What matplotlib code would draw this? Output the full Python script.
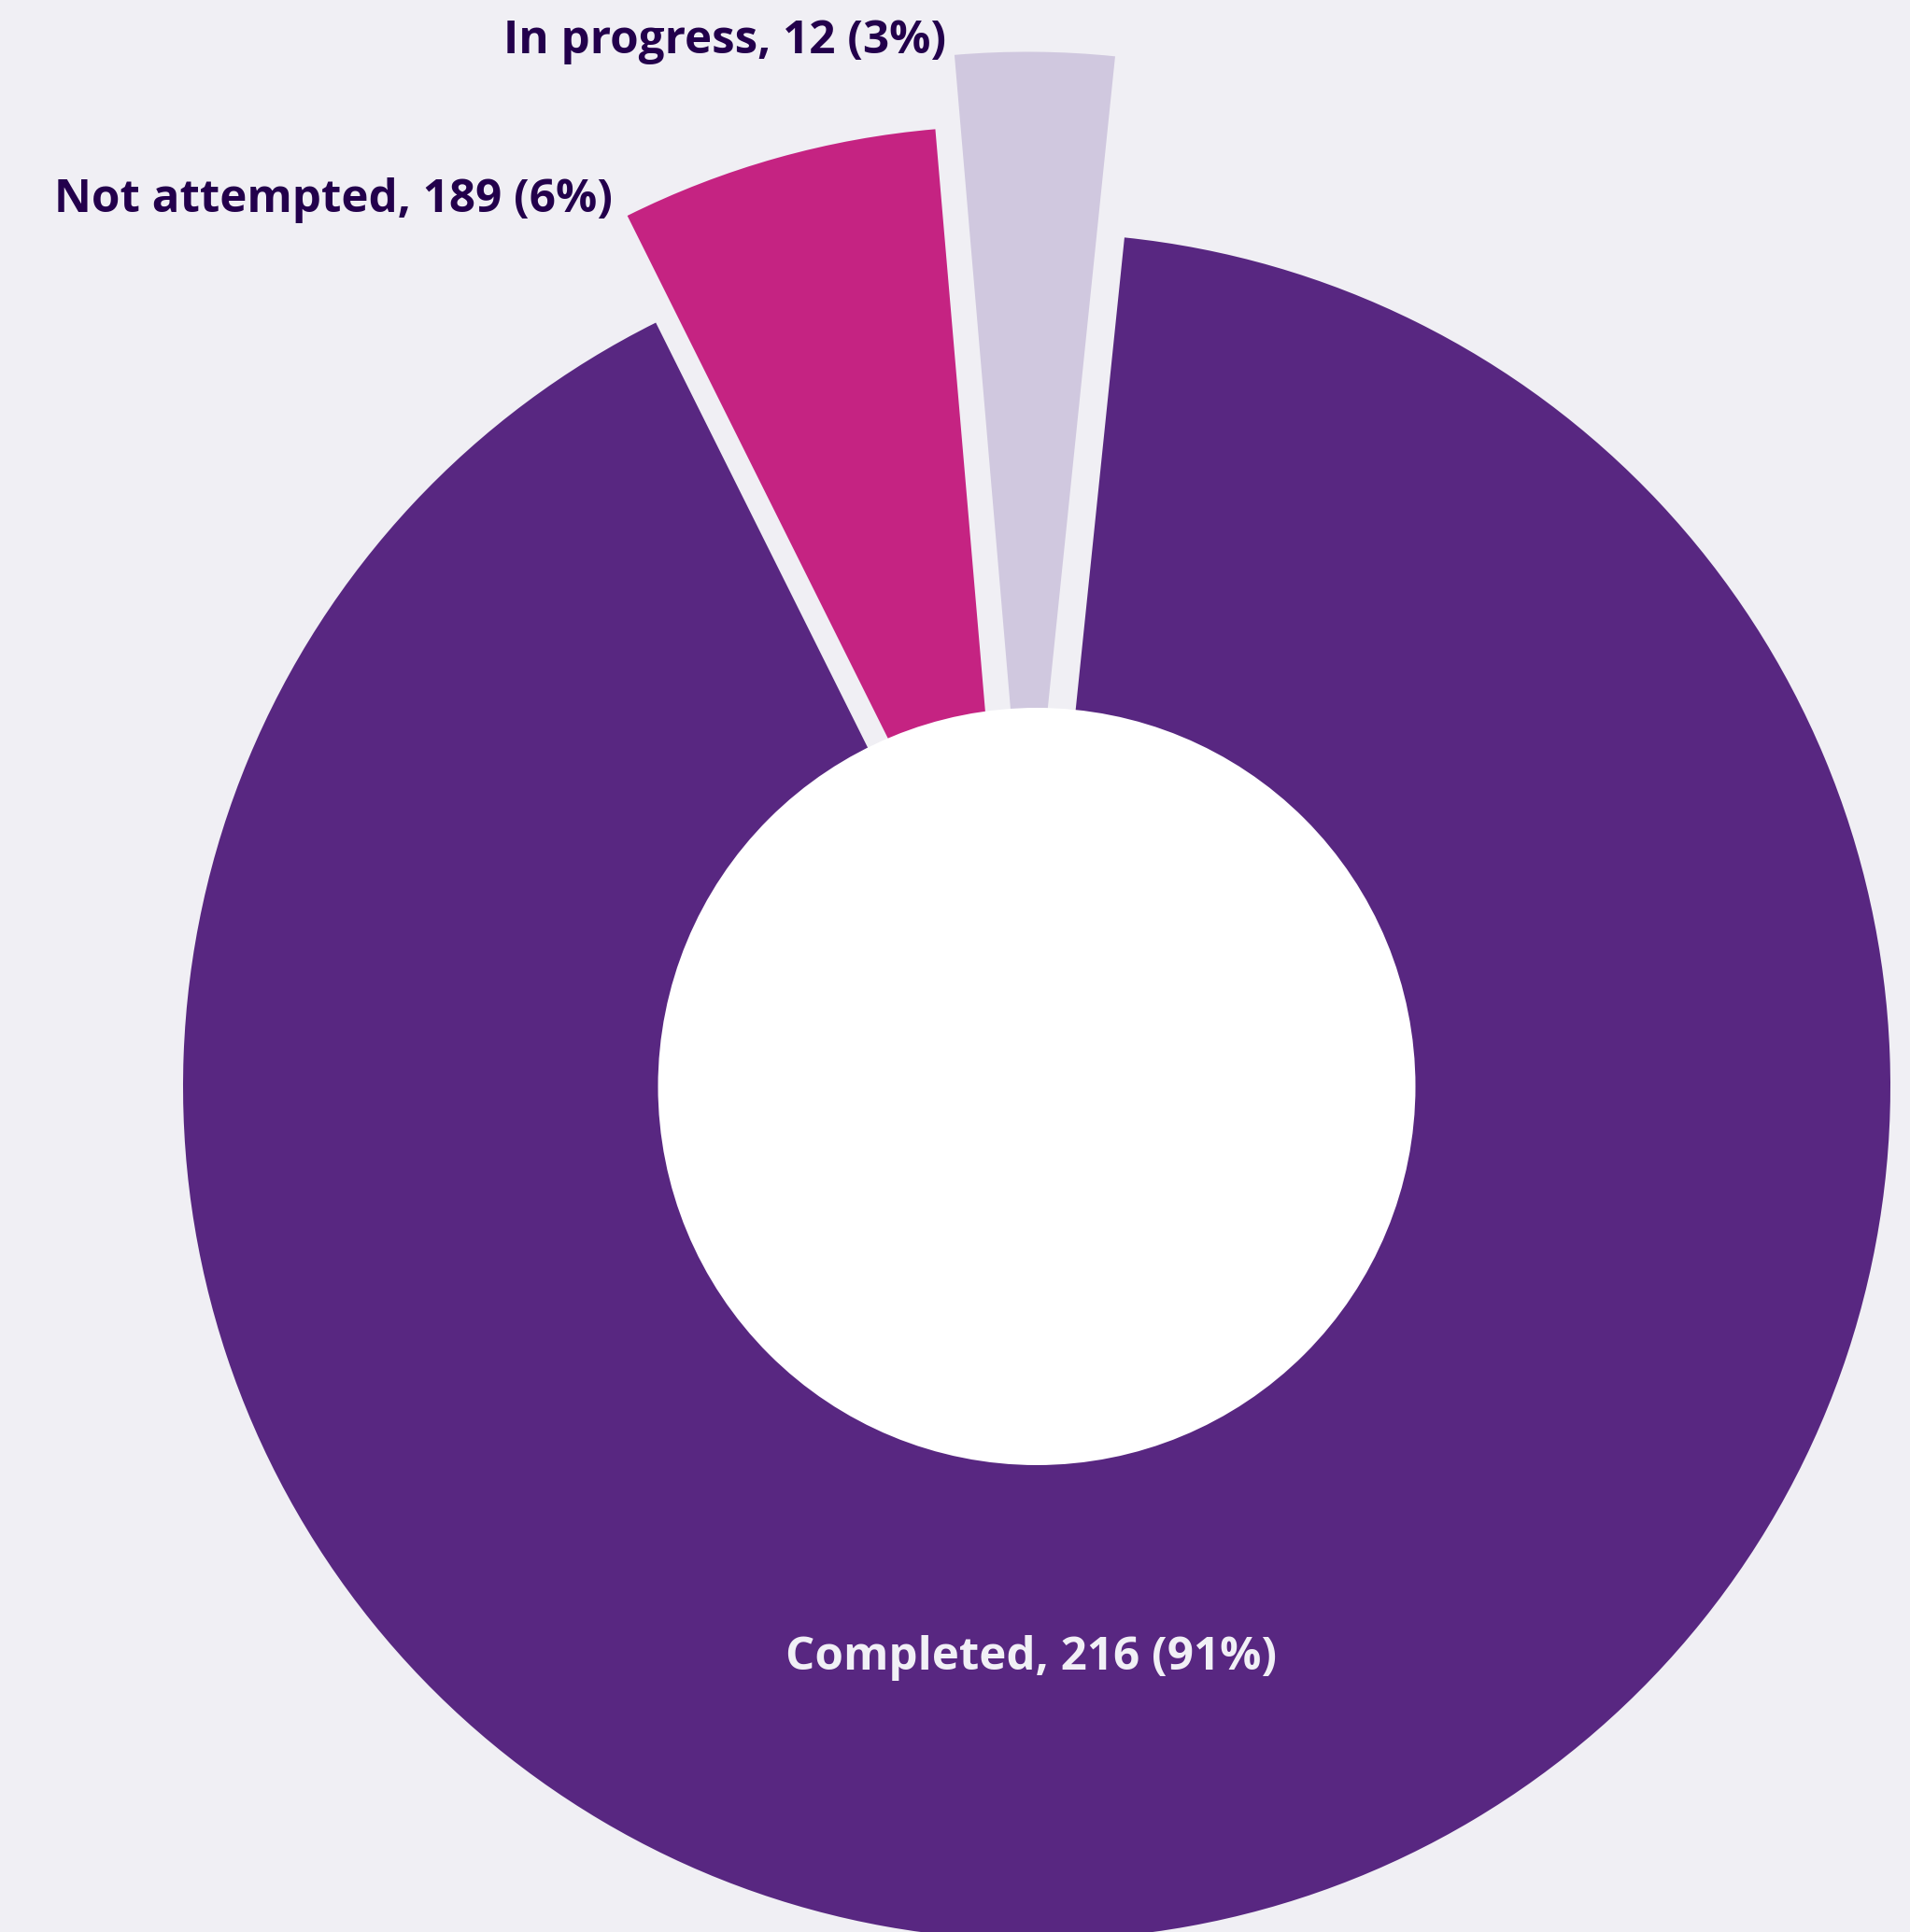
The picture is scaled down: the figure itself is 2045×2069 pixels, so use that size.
import matplotlib
matplotlib.use("Agg")
import matplotlib.pyplot as plt

# ---- data ----
categories = ["Completed", "Not attempted", "In progress"]
counts = [216, 189, 12]
pct_labels = ["91%", "6%", "3%"]
shares = [91, 6, 3]

# ---- style / layout ----
BG = "#f0eff4"
colors = ["#582781", "#c52382", "#d0c8df"]
TEXT_DARK = "#23004c"
TEXT_LIGHT = "#f1f0f6"

W, H, DPI = 2045, 2069, 100
fig = plt.figure(figsize=(W / DPI, H / DPI), dpi=DPI, facecolor=BG)
ax = fig.add_axes([0, 0, 1, 1])
ax.set_facecolor(BG)

cx, cy = 1110, H - 1163.5
R = 914
hole_r = 405.5
# pull-out offsets of each slice's apex (px, x right / y up)
offsets = [(0, 0), (-30.5, 114.5), (-10, 194)]

wedges, _ = ax.pie(shares, colors=colors, startangle=90 - 5.9, counterclock=False,
                   center=(cx, cy), radius=R, frame=True,
                   wedgeprops=dict(edgecolor="none", linewidth=0))
for w, (dx, dy) in zip(wedges, offsets):
    w.set_center((cx + dx, cy + dy))

ax.add_patch(plt.Circle((cx, cy), hole_r, facecolor="white", edgecolor="none", zorder=5))

ax.set_xlim(0, W)
ax.set_ylim(0, H)
ax.set_aspect("equal")
ax.axis("off")

font = dict(family=["Open Sans", "DejaVu Sans"], fontweight="bold", fontsize=35.5)
labels = [f"{c}, {n} ({p})" for c, n, p in zip(categories, counts, pct_labels)]

ax.text(1104, H - 1788, labels[0], ha="center", va="baseline", color=TEXT_LIGHT, zorder=6, **font)
ax.text(656, H - 227, labels[1], ha="right", va="baseline", color=TEXT_DARK, zorder=6, **font)
ax.text(1013, H - 57, labels[2], ha="right", va="baseline", color=TEXT_DARK, zorder=6, **font)

fig.savefig("out.png", dpi=DPI, facecolor=BG)
